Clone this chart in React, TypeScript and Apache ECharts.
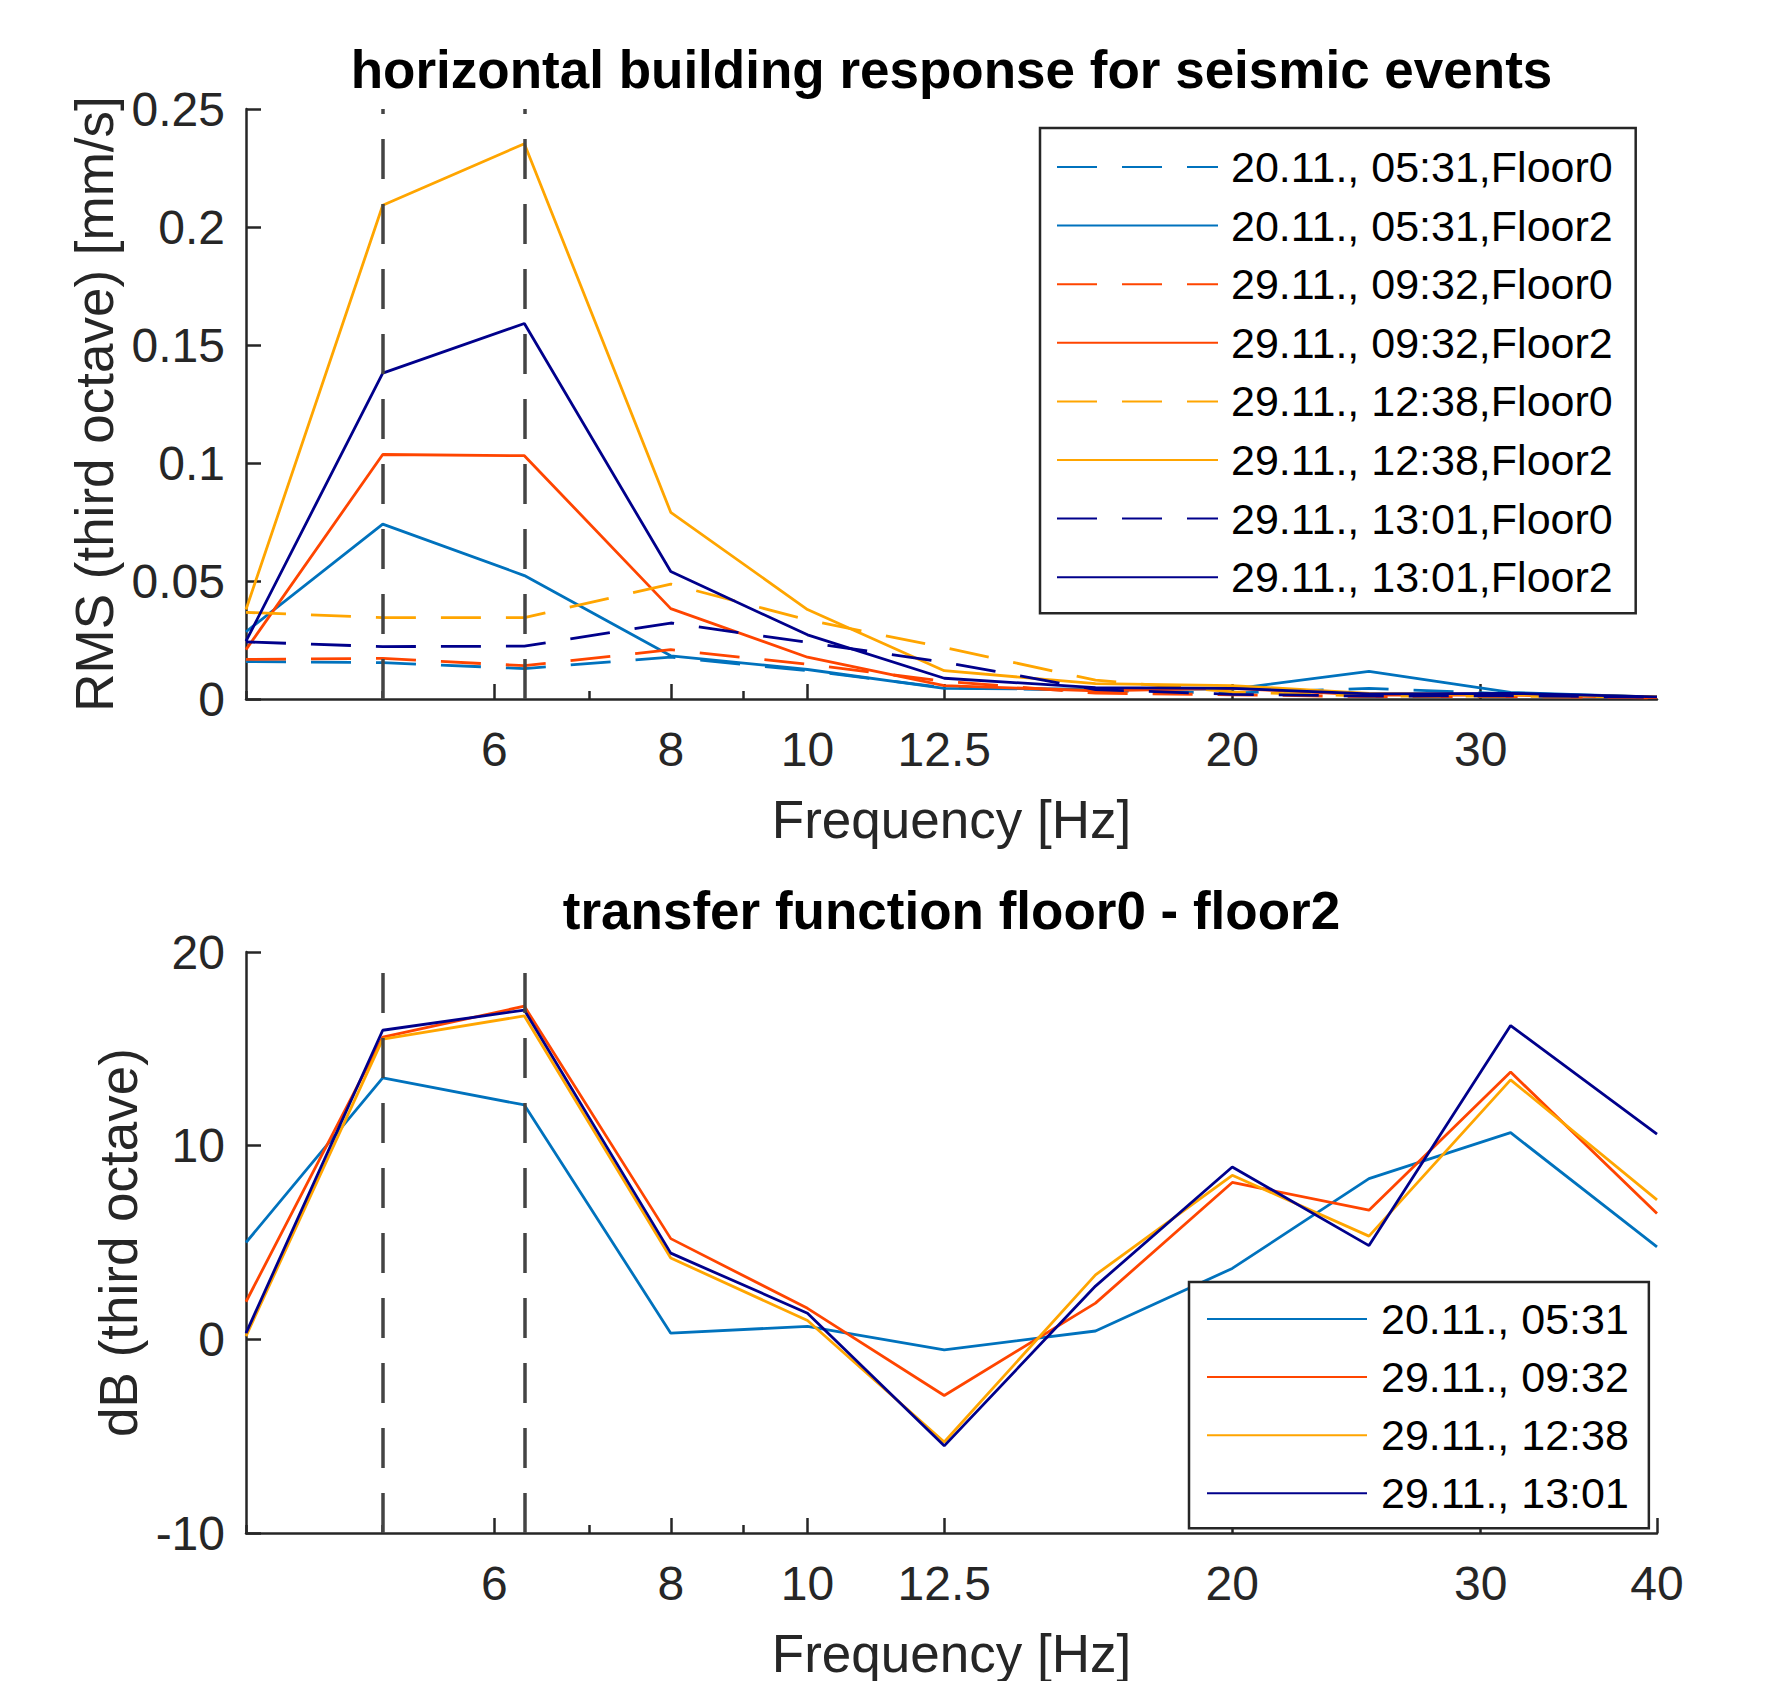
import React, { useEffect, useRef } from 'react';
import * as echarts from 'echarts';

// third-octave band centre frequencies [Hz]
const FREQ = [4, 5, 6.3, 8, 10, 12.5, 16, 20, 25, 31.5, 40];

// tick positions [Hz]
const X_TICKS_TOP = [6, 8, 10, 12.5, 20, 30];
const X_TICKS_BOTTOM = [6, 8, 10, 12.5, 20, 30, 40];
const X_MINOR_TICKS = [4, 5, 7, 9];
const MARK_FREQS = [5, 6.3];

// event names
const EVENTS = ['20.11., 05:31', '29.11., 09:32', '29.11., 12:38', '29.11., 13:01'];
const COLORS = ['#0072BD', '#FF4500', '#FFA500', '#00008B'];

// top: RMS (third octave) [mm/s]
const RMS_0531_F0 = [0.0159, 0.0154, 0.0129, 0.0177, 0.012, 0.0048, 0.0036, 0.0025, 0.0045, 0.0022, 0.0008];
const RMS_0531_F2 = [0.0285, 0.0741, 0.0523, 0.0183, 0.0125, 0.0045, 0.0042, 0.0042, 0.0117, 0.0028, 0.0008];
const RMS_0932_F0 = [0.0168, 0.0172, 0.0141, 0.0209, 0.0147, 0.0075, 0.0025, 0.0018, 0.001, 0.001, 0.0005];
const RMS_0932_F2 = [0.0209, 0.1036, 0.1031, 0.0383, 0.0177, 0.0057, 0.0035, 0.0045, 0.0017, 0.0016, 0.0006];
const RMS_1238_F0 = [0.0367, 0.0345, 0.0345, 0.0487, 0.0335, 0.0218, 0.008, 0.003, 0.0012, 0.0012, 0.0008];
const RMS_1238_F2 = [0.0379, 0.2092, 0.2353, 0.0791, 0.0379, 0.012, 0.0065, 0.0057, 0.0024, 0.0018, 0.001];
const RMS_1301_F0 = [0.0242, 0.0222, 0.0224, 0.0322, 0.024, 0.0156, 0.004, 0.002, 0.0012, 0.0014, 0.0007];
const RMS_1301_F2 = [0.0245, 0.1381, 0.1591, 0.054, 0.0272, 0.0088, 0.0048, 0.0045, 0.0022, 0.0024, 0.0009];

// bottom: transfer function floor0 - floor2 [dB]
const TF_0531 = [5.0, 13.5, 12.1, 0.32, 0.67, -0.54, 0.43, 3.66, 8.3, 10.67, 4.77];
const TF_0932 = [1.94, 15.6, 17.2, 5.2, 1.6, -2.9, 1.87, 8.1, 6.67, 13.8, 6.5];
const TF_1238 = [0.17, 15.5, 16.7, 4.2, 0.97, -5.3, 3.33, 8.47, 5.33, 13.4, 7.2];
const TF_1301 = [0.32, 15.96, 17.0, 4.45, 1.35, -5.5, 2.75, 8.9, 4.84, 16.2, 10.6];

const TOP_SERIES = [
  { name: EVENTS[0] + ',Floor0', values: RMS_0531_F0, color: COLORS[0], dashed: true },
  { name: EVENTS[0] + ',Floor2', values: RMS_0531_F2, color: COLORS[0], dashed: false },
  { name: EVENTS[1] + ',Floor0', values: RMS_0932_F0, color: COLORS[1], dashed: true },
  { name: EVENTS[1] + ',Floor2', values: RMS_0932_F2, color: COLORS[1], dashed: false },
  { name: EVENTS[2] + ',Floor0', values: RMS_1238_F0, color: COLORS[2], dashed: true },
  { name: EVENTS[2] + ',Floor2', values: RMS_1238_F2, color: COLORS[2], dashed: false },
  { name: EVENTS[3] + ',Floor0', values: RMS_1301_F0, color: COLORS[3], dashed: true },
  { name: EVENTS[3] + ',Floor2', values: RMS_1301_F2, color: COLORS[3], dashed: false },
];
const BOTTOM_SERIES = [
  { name: EVENTS[0], values: TF_0531, color: COLORS[0] },
  { name: EVENTS[1], values: TF_0932, color: COLORS[1] },
  { name: EVENTS[2], values: TF_1238, color: COLORS[2] },
  { name: EVENTS[3], values: TF_1301, color: COLORS[3] },
];

const FONT = "'Liberation Sans', Arial, Helvetica, sans-serif";
const AXIS_COLOR = '#262626';
const DASH = [40, 25];
const LINE_W = 2.8;

function fmtFreq(v: number) {
  return String(parseFloat(Number(v).toPrecision(3)));
}

function makeXAxes(gridIndex: number, ticks: number[]) {
  const base = {
    type: 'log' as const,
    logBase: 10,
    min: 4,
    max: 40,
    gridIndex,
    position: 'bottom' as const,
    splitLine: { show: false },
    minorTick: { show: false },
  };
  return [
    {
      ...base,
      name: 'Frequency [Hz]',
      nameLocation: 'middle',
      nameGap: 94,
      nameTextStyle: { fontSize: 53, color: AXIS_COLOR, fontFamily: FONT, lineHeight: 53 },
      axisLine: { show: true, onZero: false, lineStyle: { color: AXIS_COLOR, width: 2.5 } },
      axisTick: { show: true, inside: true, length: 15, customValues: ticks, lineStyle: { color: AXIS_COLOR, width: 2.5 } },
      axisLabel: {
        show: true,
        customValues: ticks,
        margin: 26,
        fontSize: 48,
        color: AXIS_COLOR,
        fontFamily: FONT,
        formatter: (v: number) => fmtFreq(v),
      },
    },
    {
      ...base,
      axisLine: { show: false, onZero: false },
      axisLabel: { show: false },
      axisTick: { show: true, inside: true, length: 8, customValues: X_MINOR_TICKS, lineStyle: { color: AXIS_COLOR, width: 2.5 } },
    },
  ];
}

function makeYAxis(gridIndex: number, min: number, max: number, interval: number, name: string, nameGap: number) {
  return {
    type: 'value' as const,
    gridIndex,
    min,
    max,
    interval,
    name,
    nameLocation: 'middle',
    nameGap,
    nameTextStyle: { fontSize: 53, color: AXIS_COLOR, fontFamily: FONT, lineHeight: 53 },
    splitLine: { show: false },
    axisLine: { show: true, onZero: false, lineStyle: { color: AXIS_COLOR, width: 2.5 } },
    axisTick: { show: true, inside: true, length: 15, lineStyle: { color: AXIS_COLOR, width: 2.5 } },
    axisLabel: { margin: 21, fontSize: 48, color: AXIS_COLOR, fontFamily: FONT },
  };
}

const markLine = {
  silent: true,
  symbol: ['none', 'none'],
  label: { show: false },
  lineStyle: { color: '#444444', width: 3.5, type: DASH },
  data: MARK_FREQS.map((f) => ({ xAxis: f })),
};

export default function App() {
  const ref = useRef<HTMLDivElement>(null);
  useEffect(() => {
    if (!ref.current) return;
    const chart = echarts.init(ref.current, undefined, { renderer: 'svg' });
    const series: any[] = [];
    TOP_SERIES.forEach((s, i) => {
      series.push({
        type: 'line',
        name: s.name,
        xAxisIndex: 0,
        yAxisIndex: 0,
        data: FREQ.map((f, k) => [f, s.values[k]]),
        symbol: 'none',
        showSymbol: false,
        color: s.color,
        lineStyle: { color: s.color, width: LINE_W, type: s.dashed ? DASH : 'solid' },
        markLine: i === 0 ? markLine : undefined,
        z: 2,
      });
    });
    BOTTOM_SERIES.forEach((s, i) => {
      series.push({
        type: 'line',
        name: s.name,
        xAxisIndex: 2,
        yAxisIndex: 1,
        data: FREQ.map((f, k) => [f, s.values[k]]),
        symbol: 'none',
        showSymbol: false,
        color: s.color,
        lineStyle: { color: s.color, width: LINE_W, type: 'solid' },
        markLine: i === 0 ? markLine : undefined,
        z: 2,
      });
    });

    const legendCommon = {
      orient: 'vertical' as const,
      backgroundColor: '#ffffff',
      borderColor: AXIS_COLOR,
      borderWidth: 2.5,
      borderRadius: 0,
      itemHeight: 14,
      selectedMode: false,
      itemStyle: { opacity: 0 },
      textStyle: { fontSize: 43, color: '#000000', fontFamily: FONT, lineHeight: 50, padding: [0, 0, 0, 8] },
      z: 10,
    };

    chart.setOption({
      animation: false,
      backgroundColor: '#ffffff',
      textStyle: { fontFamily: FONT },
      title: [
        {
          text: 'horizontal building response for seismic events',
          left: 951.5,
          top: 43,
          textAlign: 'center',
          padding: 0,
          textStyle: { fontSize: 53, fontWeight: 'bold', color: '#000000', fontFamily: FONT, lineHeight: 53 },
        },
        {
          text: 'transfer function floor0 - floor2',
          left: 951.5,
          top: 884,
          textAlign: 'center',
          padding: 0,
          textStyle: { fontSize: 53, fontWeight: 'bold', color: '#000000', fontFamily: FONT, lineHeight: 53 },
        },
      ],
      grid: [
        { left: 246, top: 109, width: 1411, height: 590, containLabel: false },
        { left: 246, top: 952, width: 1411, height: 589, containLabel: false },
      ],
      xAxis: [...makeXAxes(0, X_TICKS_TOP), ...makeXAxes(1, X_TICKS_BOTTOM)],
      yAxis: [
        makeYAxis(0, 0, 0.25, 0.05, 'RMS (third octave) [mm/s]', 124),
        makeYAxis(1, -10, 20, 10, 'dB (third octave)', 98),
      ],
      legend: [
        {
          ...legendCommon,
          data: TOP_SERIES.map((s) => s.name),
          left: 1040,
          top: 128,
          itemWidth: 161,
          itemGap: 8.6,
          padding: [14, 23, 11, 16],
        },
        {
          ...legendCommon,
          data: BOTTOM_SERIES.map((s) => s.name),
          left: 1189,
          top: 1282,
          itemWidth: 160,
          itemGap: 8.1,
          padding: [12, 20, 10, 17],
          textStyle: { ...legendCommon.textStyle, padding: [0, 0, 0, 9] },
        },
      ],
      series,
    });
    return () => chart.dispose();
  }, []);
  return (
    <div
      ref={ref}
      style={{ position: 'absolute', left: 0, top: 0, width: 1767, height: 1681, background: '#fff' }}
    />
  );
}
